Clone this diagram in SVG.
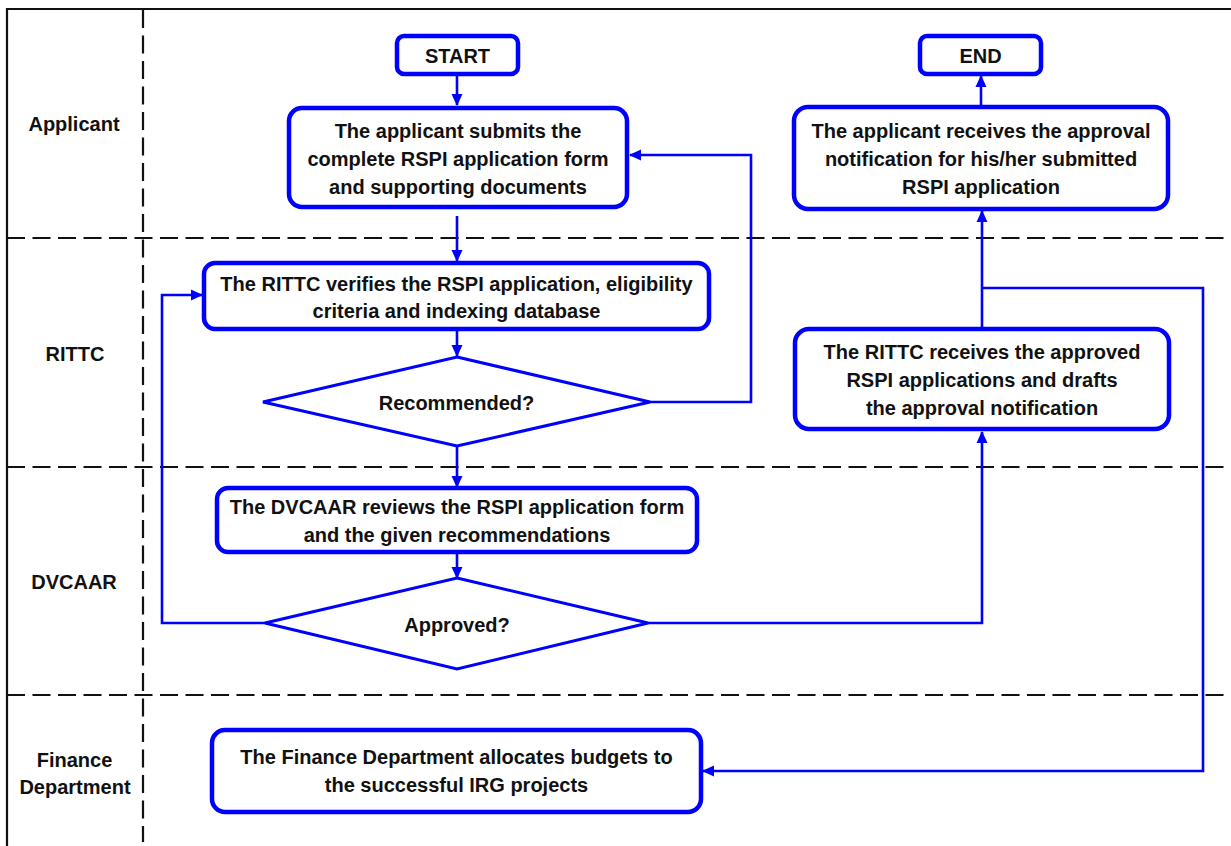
<svg xmlns="http://www.w3.org/2000/svg" width="1231" height="846" viewBox="0 0 1231 846">
<style>
.t{font-family:"Liberation Sans",Arial,sans-serif;font-weight:bold;font-size:20px;fill:#111;text-anchor:middle}
.box{fill:#fff;stroke:#0000ff;stroke-width:4.5}
.dia{fill:#fff;stroke:#0000ff;stroke-width:3}
.con{fill:none;stroke:#0000ff;stroke-width:2.6}
.dash{stroke:#111;stroke-width:2.2;stroke-dasharray:18 7.5;fill:none}
</style>
<defs>
<marker id="ah" markerUnits="userSpaceOnUse" markerWidth="12" markerHeight="12" viewBox="0 0 12 12" refX="11" refY="6" orient="auto">
<path d="M0,0.5 L12,6 L0,11.5 Z" fill="#0000ff"/>
</marker>
</defs>
<rect width="1231" height="846" fill="#fff"/>
<g id="lanes">
<path d="M7,846 V9 H1231" fill="none" stroke="#111" stroke-width="2.2"/>
<line class="dash" x1="7" y1="238" x2="1231" y2="238"/>
<line class="dash" x1="7" y1="467" x2="1231" y2="467"/>
<line class="dash" x1="7" y1="695" x2="1231" y2="695"/>
<line class="dash" x1="143" y1="10" x2="143" y2="842"/>
<text class="t" x="74" y="131">Applicant</text>
<text class="t" x="75" y="361">RITTC</text>
<text class="t" x="74" y="589">DVCAAR</text>
<text class="t" x="74.5" y="767">Finance</text>
<text class="t" x="75" y="794">Department</text>
</g>
<g id="connectors">
<path class="con" d="M457,75 V105" marker-end="url(#ah)"/>
<path class="con" d="M457,216 V261" marker-end="url(#ah)"/>
<path class="con" d="M457,331 V356" marker-end="url(#ah)"/>
<path class="con" d="M650,402 H751 V155 H630" marker-end="url(#ah)"/>
<path class="con" d="M457,446 V487" marker-end="url(#ah)"/>
<path class="con" d="M457,553 V578" marker-end="url(#ah)"/>
<path class="con" d="M265,623 H162 V295 H202" marker-end="url(#ah)"/>
<path class="con" d="M648,623 H982 V432" marker-end="url(#ah)"/>
<path class="con" d="M982,327 V211" marker-end="url(#ah)"/>
<path class="con" d="M982,288 H1203 V771 H703" marker-end="url(#ah)"/>
<path class="con" d="M981,106 V76" marker-end="url(#ah)"/>
</g>
<g id="start">
<rect class="box" x="397" y="36" width="121" height="38" rx="7"/>
<text class="t" x="457.5" y="63">START</text>
</g>
<g id="end">
<rect class="box" x="920" y="36" width="121" height="38" rx="7"/>
<text class="t" x="980.5" y="63">END</text>
</g>
<g id="submit">
<rect class="box" x="289" y="108" width="338" height="99" rx="13"/>
<text class="t" x="458" y="137.5">The applicant submits the</text>
<text class="t" x="458" y="165.5">complete RSPI application form</text>
<text class="t" x="458" y="193.5">and supporting documents</text>
</g>
<g id="verify">
<rect class="box" x="204" y="263" width="505" height="66" rx="11"/>
<text class="t" x="456.5" y="291">The RITTC verifies the RSPI application, eligibility</text>
<text class="t" x="456.5" y="318">criteria and indexing database</text>
</g>
<g id="recommended">
<polygon class="dia" points="457,357 650,402 457,446 263,402"/>
<text class="t" x="456.5" y="410">Recommended?</text>
</g>
<g id="review">
<rect class="box" x="217" y="488" width="480" height="64" rx="11"/>
<text class="t" x="457" y="514">The DVCAAR reviews the RSPI application form</text>
<text class="t" x="457" y="542">and the given recommendations</text>
</g>
<g id="approved">
<polygon class="dia" points="457,578 648,623 457,669 265,623"/>
<text class="t" x="457" y="632">Approved?</text>
</g>
<g id="receive">
<rect class="box" x="795" y="329" width="374" height="100" rx="14"/>
<text class="t" x="982" y="359">The RITTC receives the approved</text>
<text class="t" x="982" y="387">RSPI applications and drafts</text>
<text class="t" x="982" y="414.5">the approval notification</text>
</g>
<g id="notify">
<rect class="box" x="794" y="107" width="374" height="102" rx="14"/>
<text class="t" x="981" y="137.5">The applicant receives the approval</text>
<text class="t" x="981" y="165.5">notification for his/her submitted</text>
<text class="t" x="981" y="194">RSPI application</text>
</g>
<g id="finance">
<rect class="box" x="212" y="730" width="489" height="82" rx="13"/>
<text class="t" x="456.5" y="764">The Finance Department allocates budgets to</text>
<text class="t" x="456.5" y="792">the successful IRG projects</text>
</g>
</svg>
